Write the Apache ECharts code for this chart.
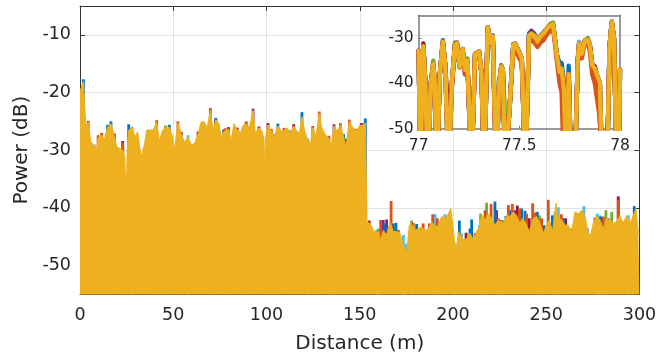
<!DOCTYPE html>
<html>
<head>
<meta charset="utf-8">
<script src="https://cdn.jsdelivr.net/npm/echarts@6/dist/echarts.min.js"></script>
<style>html,body{margin:0;padding:0;background:#fff}#c{width:670px;height:362px}</style>
</head>
<body>
<div id="c"></div>
<script>
// ---------- Main plot: distance (m) and top envelope of the yellow trace (dB) ----------
const mainX = [0,1.8,3.2,4.4,5.8,7.7,8.6,9.7,11.6,13.0,14.8,16.6,18.4,19.7,21.5,22.9,24.0,24.7,25.3,26.1,27.9,29.6,30.9,32.7,34.5,35.8,37.5,39.3,41.1,42.5,44.4,45.8,47.9,49.7,50.6,52.5,54.3,56.0,57.9,59.7,61.5,63.3,65.0,66.8,68.1,69.9,71.3,72.8,74.5,75.8,77.0,77.9,79.6,81.1,82.5,84.3,86.1,87.3,89.1,90.8,92.8,94.0,95.9,97.6,98.6,99.0,99.4,100.8,102.6,104.3,106.1,108.0,109.4,111.0,112.8,114.6,116.3,117.6,119.0,120.5,122.3,123.5,124.8,126.5,128.3,129.7,131.5,133.4,134.8,136.2,137.8,139.6,141.3,142.6,144.4,146.3,148.0,149.8,151.6,153.0,153.7,153.9,155.5,158.2,160.0,161.2,162.6,164.4,166.2,168.0,169.8,171.6,173.4,175.1,176.6,178.4,179.6,181.4,183.2,185.0,186.8,188.6,190.4,192.1,193.9,195.7,197.5,198.8,200.2,201.6,202.9,204.6,205.9,207.3,209.1,210.9,212.7,214.1,215.4,217.2,218.9,220.7,222.5,224.3,227.0,228.8,230.6,232.3,234.1,235.9,237.4,239.1,240.9,243.1,244.9,246.6,248.4,250.2,251.6,253.4,255.2,256.5,258.3,260.1,261.8,263.6,265.4,267.2,269.0,270.8,272.6,273.8,275.2,277.0,278.8,280.6,282.4,284.2,285.9,287.7,289.5,291.3,293.1,294.9,296.7,298.1,299.4,300];
const mainYellow = [-19.8,-18.1,-26.0,-25.2,-28.5,-29.3,-30.8,-27.8,-27.4,-28.2,-26.0,-25.4,-27.4,-29.5,-29.7,-30.0,-31.0,-38.7,-30.0,-26.5,-26.0,-27.7,-26.8,-31.1,-29.1,-26.5,-26.5,-26.5,-25.1,-28.3,-26.5,-26.0,-26.0,-27.7,-30.0,-25.3,-27.1,-28.6,-27.7,-29.1,-28.8,-27.1,-25.1,-25.1,-26.2,-23.1,-26.5,-24.7,-25.4,-27.7,-26.8,-26.6,-26.3,-28.3,-25.4,-26.4,-27.0,-25.8,-25.4,-26.1,-23.1,-27.0,-26.1,-26.7,-28.0,-33.5,-28.0,-25.6,-26.7,-27.6,-25.8,-26.7,-26.5,-26.1,-27.0,-25.8,-26.7,-27.0,-24.2,-26.7,-28.3,-29.2,-26.1,-27.6,-23.6,-26.1,-27.3,-27.9,-29.2,-25.8,-26.7,-25.6,-27.6,-29.4,-25.0,-26.1,-26.7,-25.8,-25.6,-25.3,-25.5,-42.4,-42.7,-44.4,-44.1,-45.6,-43.9,-44.7,-42.4,-44.1,-44.1,-44.4,-46.7,-47.9,-43.0,-43.0,-43.9,-43.6,-43.3,-43.9,-43.6,-42.4,-43.3,-43.0,-41.5,-41.8,-41.0,-40.1,-43.9,-47.9,-44.1,-45.0,-45.6,-45.3,-44.4,-45.6,-44.1,-43.3,-41.2,-42.1,-41.0,-41.8,-43.0,-42.1,-42.7,-41.3,-41.5,-40.7,-41.3,-42.7,-41.8,-42.7,-44.1,-41.8,-41.5,-42.7,-44.4,-43.0,-42.1,-44.1,-39.2,-41.8,-42.1,-43.0,-43.0,-44.1,-40.7,-41.0,-40.4,-41.5,-44.4,-44.7,-42.7,-41.5,-42.1,-43.6,-41.8,-42.1,-42.7,-42.4,-41.3,-42.7,-41.3,-42.7,-41.3,-40.1,-44.4,-44.4];

// peaks of the other traces that rise above the yellow trace: [distance, dB]
const tipsBlue = [[1.8,-17.7],[14.8,-25.6],[16.6,-25.0],[22.9,-29.6],[26.1,-25.5],[47.9,-25.6],[72.8,-24.4],[77.0,-26.4],[104.3,-27.2],[106.1,-25.4],[112.8,-26.6],[119.0,-23.4],[141.3,-27.2],[142.6,-28.0],[153.0,-24.5],[163.5,-42.7],[168.0,-42.7],[169.4,-42.6],[180.5,-42.8],[203.4,-42.2],[209.1,-43.6],[210.0,-42.0],[222.5,-38.9],[226.1,-42.7],[228.4,-41.4],[230.6,-40.4],[236.8,-40.1],[238.6,-40.5],[245.2,-40.7],[248.8,-43.0],[253.3,-41.3],[259.2,-41.8],[272.0,-43.6],[279.2,-41.5],[295.8,-43.0],[297.2,-39.7]];
const tipsOrange = [[3.2,-25.6],[4.4,-24.9],[9.7,-27.4],[11.6,-27.0],[22.9,-28.7],[41.1,-24.8],[52.5,-25.0],[69.9,-22.7],[77.9,-26.2],[89.1,-25.0],[102.6,-26.3],[124.8,-25.8],[128.3,-23.3],[133.4,-27.5],[139.6,-25.3],[144.4,-24.7],[148.0,-26.3],[161.2,-42.1],[166.8,-38.8],[170.7,-43.8],[178.7,-42.6],[184.0,-42.7],[187.3,-42.7],[189.1,-41.1],[191.6,-41.8],[211.8,-44.4],[217.2,-40.4],[220.4,-39.3],[224.3,-41.8],[229.7,-39.5],[231.8,-39.3],[235.6,-40.1],[239.5,-41.0],[242.7,-39.2],[244.0,-40.8],[247.5,-41.8],[251.1,-38.6],[258.1,-41.1],[276.1,-41.7],[280.6,-41.5],[288.6,-38.6]];
const tipsRed = [[18.4,-27.1],[22.9,-28.4],[32.7,-30.8],[54.3,-26.8],[63.3,-26.8],[72.8,-24.6],[79.6,-26.0],[84.3,-26.1],[95.9,-25.9],[100.8,-25.3],[109.4,-26.2],[114.6,-25.5],[126.5,-27.3],[133.4,-27.7],[151.6,-25.3],[155.1,-42.2],[207.0,-44.3],[213.0,-44.1],[225.2,-42.1],[234.5,-39.6],[240.9,-41.8],[252.0,-42.7],[260.4,-41.8],[267.2,-41.0],[279.7,-42.7],[288.6,-38.0]];
const tipsPurple = [[89.1,-25.2],[92.8,-22.8],[136.2,-25.5],[150.8,-25.3],[162.6,-42.1],[164.4,-42.0],[223.4,-40.4],[233.1,-40.4],[263.6,-43.6],[268.2,-42.4],[283.3,-41.8],[291.3,-42.4]];
const tipsGreen = [[45.8,-25.7],[160.0,-43.6],[177.8,-42.2],[214.8,-41.0],[218.0,-39.1],[226.6,-42.1],[227.3,-42.1],[246.3,-41.3],[249.9,-43.9],[282.0,-40.4],[285.1,-40.7]];
const tipsLightBlue = [[7.7,-29.0],[27.9,-25.9],[57.9,-27.4],[122.3,-28.0],[134.8,-28.9],[159.0,-43.8],[173.4,-44.7],[174.8,-46.2],[190.4,-41.1],[195.7,-41.1],[201.3,-46.2],[204.6,-44.4],[214.1,-43.0],[254.7,-40.7],[256.5,-39.9],[270.2,-39.7],[277.4,-41.0],[278.8,-41.3],[294.0,-41.3]];

// ---------- Inset: 77 m – 78 m ----------
const insetX = [77.000,77.008,77.023,77.033,77.045,77.060,77.072,77.080,77.090,77.105,77.120,77.132,77.148,77.165,77.180,77.190,77.203,77.218,77.230,77.242,77.262,77.280,77.300,77.312,77.325,77.343,77.355,77.368,77.385,77.400,77.410,77.418,77.430,77.452,77.470,77.480,77.495,77.512,77.530,77.548,77.560,77.575,77.590,77.605,77.620,77.640,77.655,77.668,77.685,77.700,77.710,77.722,77.732,77.745,77.758,77.775,77.790,77.797,77.810,77.826,77.840,77.850,77.862,77.875,77.888,77.900,77.912,77.935,77.948,77.959,77.970,77.984,77.994,78.000];
const insetYellow   = [-32.8,-60,-31.8,-40,-60,-40,-35.8,-40,-60,-38,-30.8,-36,-60,-40,-31.5,-31.2,-36.3,-32.4,-37,-35.0,-60,-33.5,-33.0,-38,-60,-27.6,-31,-29.6,-60,-40,-36.3,-37,-60,-45,-31.5,-31.3,-32.8,-34.5,-60,-29.5,-29.0,-29.5,-30.8,-29.5,-29.0,-27.8,-27.2,-27.0,-33.4,-37.5,-36.8,-41.5,-60,-38.0,-60,-60,-35,-31.2,-33.5,-30.5,-30.5,-31.5,-36,-36.7,-38.5,-40,-60,-60,-32,-26.4,-30,-60,-55,-37];
const insetBlue     = [-32.8,-60,-32.3,-40,-60,-40,-37.0,-40,-60,-38,-30.5,-36,-60,-40,-31.5,-31.2,-36.3,-33.5,-38,-36.0,-60,-33.5,-33.0,-38,-60,-27.6,-31,-29.4,-60,-40,-36.0,-37,-60,-45,-31.3,-31.3,-32.8,-34.5,-60,-29.0,-28.5,-29.0,-30.8,-29.5,-28.8,-27.8,-27.5,-27.0,-33.4,-35.6,-35.5,-40.0,-60,-36.1,-60,-60,-35,-31.2,-33.5,-30.5,-30.5,-31.5,-36.5,-36.7,-39.0,-40,-60,-60,-32,-26.4,-30,-60,-55,-38];
const insetOrange   = [-33.0,-60,-32.5,-40,-60,-40,-37.5,-40,-60,-38,-31.2,-37,-60,-40,-31.8,-31.6,-36.5,-33.5,-38,-35.5,-60,-34.0,-33.5,-37,-60,-28.0,-31.5,-30.0,-60,-40,-37.0,-38,-60,-45,-32.5,-32.8,-34.0,-35.5,-60,-31.0,-30.5,-31.0,-32.0,-31.0,-30.5,-29.0,-28.5,-28.0,-34.5,-40.0,-42.0,-60,-60,-44.0,-60,-60,-36,-31.8,-34.5,-31.0,-31.0,-33.0,-38.0,-40.0,-44.0,-47.6,-60,-60,-33,-26.8,-31,-60,-55,-43.5];
const insetPurple   = [-32.8,-60,-31.8,-40,-60,-40,-35.8,-40,-60,-38,-30.8,-36,-60,-40,-31.5,-31.0,-36.3,-32.4,-37,-35.0,-60,-33.5,-33.0,-38,-60,-27.6,-31,-29.6,-60,-40,-36.3,-37,-60,-45,-31.5,-31.3,-32.8,-34.5,-60,-29.5,-28.4,-29.5,-30.8,-29.5,-29.0,-27.8,-27.2,-27.3,-33.4,-37.5,-36.8,-41.5,-60,-38.0,-60,-60,-35,-31.2,-33.5,-30.5,-30.5,-31.5,-36.0,-36.3,-38.5,-40,-60,-60,-32,-26.4,-30,-60,-55,-37];
const insetGreen    = [-32.8,-60,-32.0,-40,-60,-40,-35.0,-40,-60,-38,-30.8,-36,-60,-40,-31.0,-31.2,-36.3,-32.4,-37,-34.5,-60,-33.5,-33.0,-38,-60,-27.6,-31,-29.6,-60,-40,-36.3,-37,-48,-45,-31.5,-31.3,-32.8,-34.5,-60,-29.5,-29.0,-29.5,-30.8,-29.5,-29.0,-27.8,-26.8,-26.6,-33.4,-37.5,-36.8,-40.5,-60,-38.0,-60,-60,-35,-31.2,-33.5,-30.5,-30.0,-31.5,-36,-36.7,-38.5,-40,-60,-60,-32,-26.4,-30,-60,-55,-37];
const insetLightBlue= [-32.8,-60,-31.8,-40,-60,-40,-36.5,-40,-60,-38,-30.8,-36,-60,-40,-31.5,-31.2,-36.3,-33.0,-37,-35.0,-60,-33.5,-33.0,-38,-60,-27.6,-31,-29.6,-60,-40,-36.3,-37,-60,-45,-31.5,-31.3,-33.0,-34.5,-60,-29.5,-29.0,-29.5,-30.8,-29.5,-29.0,-27.8,-27.2,-27.0,-33.4,-37.5,-36.8,-43.0,-60,-40.0,-60,-60,-35,-30.8,-33.5,-30.5,-30.5,-31.5,-36,-36.7,-42.6,-45,-60,-60,-32,-26.4,-30,-60,-55,-37];
const insetRed      = [-32.8,-60,-31.2,-40,-60,-40,-35.8,-40,-60,-38,-30.8,-36,-47.5,-41,-31.5,-31.2,-36.3,-32.4,-37,-35.5,-60,-33.5,-33.0,-38,-60,-27.6,-31,-29.6,-60,-40,-36.3,-37,-60,-45,-31.5,-31.3,-32.8,-34.5,-60,-29.5,-29.0,-29.5,-30.8,-29.5,-29.0,-27.8,-27.2,-27.3,-33.4,-37.5,-36.8,-41.5,-60,-38.0,-60,-60,-35,-31.2,-33.5,-30.5,-30.5,-31.5,-35.8,-36.3,-41.0,-48,-60,-60,-32,-26.4,-30,-60,-55,-37];

// MATLAB default colour order
const C = {blue:'#0072BD', orange:'#D95319', yellow:'#EDB120', purple:'#7E2F8E', green:'#77AC30', light:'#4DBEEE', red:'#A2142F'};
const FONT = 'DejaVu Sans';
const TXT = '#262626';
const Y_MIN = -55, Y_MAX = -5;

function pairs(xs, ys){ return xs.map((x,i)=>[x, ys[i]]); }
function tipSeries(name, data, color){
  return {
    name, type:'custom', xAxisIndex:0, yAxisIndex:0, z:2, silent:true,
    itemStyle:{color}, data,
    renderItem(params, api){
      const p = api.coord([api.value(0), api.value(1)]);
      const b = api.coord([api.value(0), Y_MIN]);
      return {type:'rect', shape:{x:p[0]-1.4, y:p[1], width:2.8, height:b[1]-p[1]}, style:{fill: api.visual('color')}};
    }
  };
}
function insetLine(name, ys, color, z){
  return {name, type:'line', xAxisIndex:2, yAxisIndex:2, data:pairs(insetX, ys), showSymbol:false, z,
    lineStyle:{color, width:4.4, join:'round', cap:'round'}, itemStyle:{color}, clip:true};
}

const chart = echarts.init(document.getElementById('c'), null, {renderer:'canvas'});
const lab = {color:TXT, fontFamily:FONT, fontSize:17.5};
chart.setOption({
  animation:false,
  backgroundColor:'#fff',
  grid:[
    {left:80, right:30.5, top:6, bottom:67.6, outerBoundsMode:'none'},
    {left:418.7, top:15.3, width:201.3, height:113.4, outerBoundsMode:'none'}
  ],
  xAxis:[
    {gridIndex:0, type:'value', min:0, max:300, interval:50, position:'bottom',
     axisLine:{show:true, onZero:false, lineStyle:{color:'#333', width:1}},
     axisTick:{show:true, inside:true, length:5, lineStyle:{color:'#333'}},
     axisLabel:Object.assign({margin:12}, lab),
     splitLine:{show:true, lineStyle:{color:'#e2e2e2', width:1}},
     name:'Distance (m)', nameLocation:'middle', nameGap:39,
     nameTextStyle:{color:TXT, fontFamily:FONT, fontSize:20}},
    {gridIndex:0, type:'value', min:0, max:300, interval:50, position:'top',
     axisLine:{show:true, onZero:false, lineStyle:{color:'#333', width:1}},
     axisTick:{show:true, inside:true, length:5, lineStyle:{color:'#333'}},
     axisLabel:{show:false}, splitLine:{show:false}},
    {gridIndex:1, type:'value', min:77, max:78, interval:0.5, position:'bottom',
     axisLine:{show:true, onZero:false, lineStyle:{color:'#7a7a7a', width:1.5}},
     axisTick:{show:true, inside:true, length:3, lineStyle:{color:'#7a7a7a'}},
     axisLabel:{margin:9, color:TXT, fontFamily:FONT, fontSize:15.5},
     splitLine:{show:false}},
    {gridIndex:1, type:'value', min:77, max:78, interval:0.5, position:'top',
     axisLine:{show:true, onZero:false, lineStyle:{color:'#7a7a7a', width:1.5}},
     axisTick:{show:false}, axisLabel:{show:false}, splitLine:{show:false}}
  ],
  yAxis:[
    {gridIndex:0, type:'value', min:Y_MIN, max:Y_MAX, splitNumber:5, position:'left',
     axisLine:{show:true, onZero:false, lineStyle:{color:'#333', width:1}},
     axisTick:{show:true, inside:true, length:5, lineStyle:{color:'#333'}},
     axisLabel:Object.assign({margin:9, showMinLabel:false, showMaxLabel:false}, lab),
     splitLine:{show:true, lineStyle:{color:'#e2e2e2', width:1}},
     name:'Power (dB)', nameLocation:'middle', nameGap:42, nameRotate:90,
     nameTextStyle:{color:TXT, fontFamily:FONT, fontSize:20}},
    {gridIndex:0, type:'value', min:Y_MIN, max:Y_MAX, splitNumber:5, position:'right',
     axisLine:{show:true, onZero:false, lineStyle:{color:'#333', width:1}},
     axisTick:{show:true, inside:true, length:5, lineStyle:{color:'#333'}},
     axisLabel:{show:false}, splitLine:{show:false}},
    {gridIndex:1, type:'value', min:-50, max:-25, interval:10, position:'left',
     axisLine:{show:true, onZero:false, lineStyle:{color:'#7a7a7a', width:1.5}},
     axisTick:{show:true, inside:true, length:3, lineStyle:{color:'#7a7a7a'}},
     axisLabel:{margin:5, color:TXT, fontFamily:FONT, fontSize:15.5, showMaxLabel:false},
     splitLine:{show:false}},
    {gridIndex:1, type:'value', min:-50, max:-25, interval:10, position:'right',
     axisLine:{show:true, onZero:false, lineStyle:{color:'#7a7a7a', width:1.5}},
     axisTick:{show:false}, axisLabel:{show:false}, splitLine:{show:false}}
  ],
  series:[
    tipSeries('red', tipsRed, C.red),
    tipSeries('light', tipsLightBlue, C.light),
    tipSeries('green', tipsGreen, C.green),
    tipSeries('purple', tipsPurple, C.purple),
    tipSeries('blue', tipsBlue, C.blue),
    tipSeries('orange', tipsOrange, C.orange),
    {name:'yellow', type:'line', xAxisIndex:0, yAxisIndex:0, z:3, data:pairs(mainX, mainYellow),
     showSymbol:false, lineStyle:{color:C.yellow, width:1}, itemStyle:{color:C.yellow},
     areaStyle:{color:C.yellow, opacity:1, origin:'start'}},
    insetLine('i-blue', insetBlue, C.blue, 4),
    insetLine('i-light', insetLightBlue, C.light, 4),
    insetLine('i-green', insetGreen, C.green, 4),
    insetLine('i-purple', insetPurple, C.purple, 4),
    insetLine('i-red', insetRed, C.red, 4),
    insetLine('i-orange', insetOrange, C.orange, 4),
    insetLine('i-yellow', insetYellow, C.yellow, 5)
  ]
});
</script>
</body>
</html>
